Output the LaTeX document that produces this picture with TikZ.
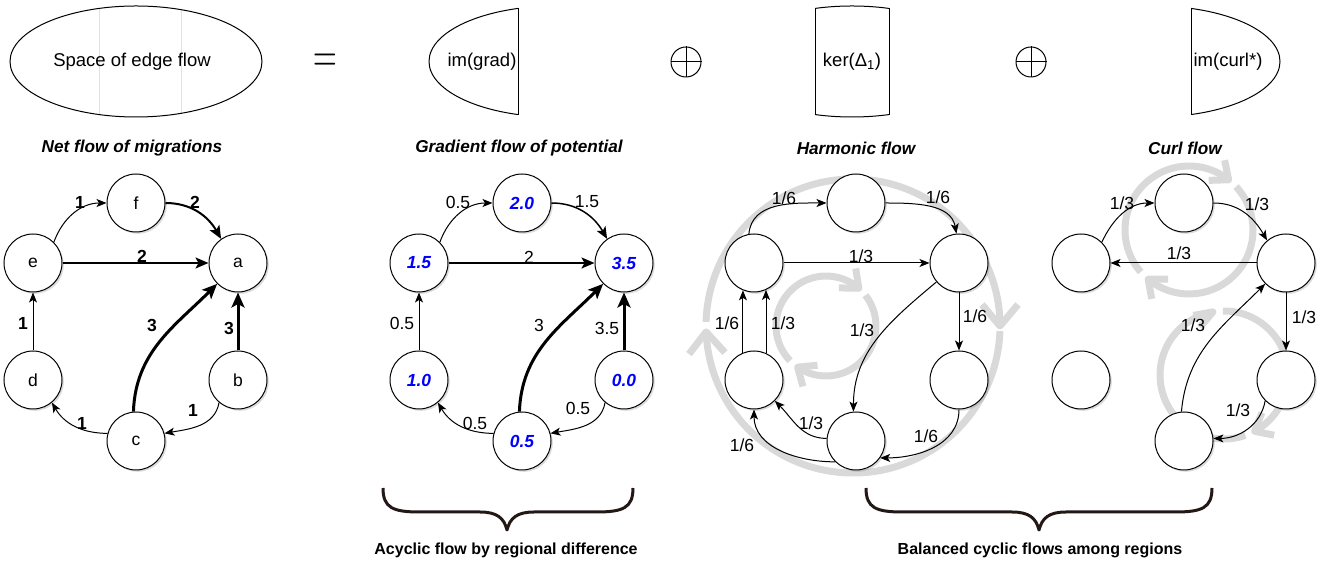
\documentclass[tikz,border=0pt]{standalone}
\usepackage{fontspec}
\setmainfont{Liberation Sans}
\usetikzlibrary{arrows.meta,shadows,calc}
\definecolor{gcirc}{RGB}{217,217,217}
\definecolor{brc}{RGB}{35,24,21}
\definecolor{pblue}{RGB}{0,0,255}
\definecolor{faint}{RGB}{225,225,225}
\begin{document}
\begin{tikzpicture}[x=1pt,y=1pt,
  nd/.style={circle, draw, line width=1pt, fill=white, minimum size=58pt, inner sep=0pt,
    font=\fontsize{17.5}{20}\selectfont,
    drop shadow={shadow xshift=1.8pt, shadow yshift=-1.8pt, opacity=0.28}},
  pn/.style={nd, font=\fontsize{17.5}{20}\selectfont\bfseries\itshape, text=pblue},
  lbl/.style={font=\fontsize{17.5}{20}\selectfont, inner sep=0pt},
  blbl/.style={font=\fontsize{17.5}{20}\selectfont\bfseries, inner sep=0pt},
  ttl/.style={font=\fontsize{17.2}{20}\selectfont\bfseries\itshape, inner sep=0pt},
  btxt/.style={font=\fontsize{16}{19}\selectfont\bfseries, inner sep=0pt},
  toptxt/.style={font=\fontsize{18.5}{21}\selectfont, inner sep=0pt},
  ea/.style={line width=1pt, -{Stealth[length=10pt, width=8pt, inset=2.5pt]}},
  eb/.style={line width=2pt, -{Stealth[length=13pt, width=11pt, inset=3pt]}},
  ec/.style={line width=3pt, -{Stealth[length=15pt, width=13pt, inset=3.5pt]}},
  gl/.style={line width=7pt, draw=gcirc, line join=round},
  shp/.style={line width=1pt},
  brace/.style={line width=3pt, draw=brc, line join=round}
]
\useasboundingbox (0,0) rectangle (1331,564);

% ---------------- top row ----------------
\draw[faint, line width=1pt] (99,449.4) -- (99,555.6);
\draw[faint, line width=1pt] (181,450.7) -- (181,554.3);
\draw[shp] (136,502.5) ellipse[x radius=126pt, y radius=55.5pt];
\node[toptxt] (space) at (132,502.5) {Space of edge flow};

\node[font=\fontsize{17.5}{20}\selectfont, inner sep=0pt] (eq) at (325,501) {\scalebox{1.9}[3]{$=$}};

\begin{scope}
  \clip (400,440) rectangle (518,570);
  \draw[shp] (555,502.5) ellipse[x radius=126pt, y radius=55.5pt];
\end{scope}
\draw[shp] (518,449.4) -- (518,555.6);
\node[toptxt] (imgrad) at (482,502.5) {im(grad)};

\node[circle, draw, line width=1pt, minimum size=30pt, inner sep=0pt] (op1) at (686,502) {};
\draw[line width=1pt] (op1.north) -- (op1.south) (op1.west) -- (op1.east);

\begin{scope}
  \clip (815,440) rectangle (889,570);
  \draw[shp] (852,502.5) ellipse[x radius=126pt, y radius=55.5pt];
\end{scope}
\draw[shp] (815,449.4) -- (815,555.6);
\draw[shp] (889,449.4) -- (889,555.6);
\node[toptxt] (ker) at (852,502.5) {ker(Δ\textsubscript{1})};

\node[circle, draw, line width=1pt, minimum size=30pt, inner sep=0pt] (op2) at (1031,502) {};
\draw[line width=1pt] (op2.north) -- (op2.south) (op2.west) -- (op2.east);

\begin{scope}
  \clip (1191,440) rectangle (1300,570);
  \draw[shp] (1154,502.5) ellipse[x radius=126pt, y radius=55.5pt];
\end{scope}
\draw[shp] (1191,449.4) -- (1191,555.6);
\node[toptxt] (imcurl) at (1228,502.5) {im(curl*)};

% ---------------- titles ----------------
\node[ttl] (t1) at (132,416) {Net flow of migrations};
\node[ttl] (t2) at (519,416) {Gradient flow of potential};
\node[ttl] (t3) at (856,416) {Harmonic flow};
\node[ttl] (t4) at (1185,416) {Curl flow};

% ---------------- grey cycles ----------------
\coordinate (ho) at (853,238);
\draw[gl] ($(ho)+(178.4:147)$) arc[start angle=178.4, end angle=0, radius=147pt];
\draw[gl] ($(ho)+(0:147)+(130:28)$) -- ($(ho)+(0:147)$) -- ++(50:28);
\draw[gl] ($(ho)+(-2:147)$) arc[start angle=-2, end angle=-177.7, radius=147pt];
\draw[gl] ($(ho)+(-177.7:147)+(312.3:28)$) -- ($(ho)+(-177.7:147)$) -- ++(232.3:28);

\coordinate (hi) at (826,238);
\draw[gl] ($(hi)+(224:50)$) arc[start angle=224, end angle=49, radius=50pt];
\draw[gl] ($(hi)+(49:50)+(179:20)$) -- ($(hi)+(49:50)$) -- ++(99:20);
\draw[gl] ($(hi)+(38:50)$) arc[start angle=38, end angle=-124.6, radius=50pt];
\draw[gl] ($(hi)+(-124.6:50)+(5.4:20)$) -- ($(hi)+(-124.6:50)$) -- ++(285.4:20);

\coordinate (cu) at (1189,334);
\draw[gl] ($(cu)+(221:64)$) arc[start angle=221, end angle=51.7, radius=64pt];
\draw[gl] ($(cu)+(51.7:64)+(181.7:20)$) -- ($(cu)+(51.7:64)$) -- ++(101.7:20);
\draw[gl] ($(cu)+(42.7:64)$) arc[start angle=42.7, end angle=-129.7, radius=64pt];
\draw[gl] ($(cu)+(-129.7:64)+(0.3:20)$) -- ($(cu)+(-129.7:64)$) -- ++(280.3:20);

\coordinate (cl) at (1224,189);
\draw[gl] ($(cl)+(-70.5:64)$) arc[start angle=-70.5, end angle=-260, radius=64pt];
\draw[gl] ($(cl)+(100:64)+(190:20)$) -- ($(cl)+(100:64)$) -- ++(-130:20);
\draw[gl] ($(cl)+(91:64)$) arc[start angle=91, end angle=-61.5, radius=64pt];
\draw[gl] ($(cl)+(-61.5:64)+(68.5:20)$) -- ($(cl)+(-61.5:64)$) -- ++(-11.5:20);

% ---------------- graph 1 ----------------
\node[nd] (f) at (136,361) {f};
\node[nd] (e) at (33,301) {e};
\node[nd] (a) at (238,301) {a};
\node[nd] (d) at (33,184) {d};
\node[nd] (b) at (238,184) {b};
\node[nd] (c) at (136,123) {c};
\draw[ea] (e.45) to[out=70,in=180] (f.west);
\draw[eb] (f.east) to[out=0,in=120] (a.125);
\draw[eb] (e.east) -- (a.west);
\draw[ea] (d.north) -- (e.south);
\draw[ec] (c.95) to[out=88,in=225] (a.225);
\draw[ec] (b.north) -- (a.south);
\draw[ea] (b.230) to[out=-100,in=10] (c.15);
\draw[ea] (c.165) to[out=180,in=-60] (d.-50);
\node[blbl] (l1a) at (80,362) {1};
\node[blbl] (l1b) at (195,362) {2};
\node[blbl] (l1c) at (142,308) {2};
\node[blbl] (l1d) at (23,241) {1};
\node[blbl] (l1e) at (152,239) {3};
\node[blbl] (l1f) at (229,236) {3};
\node[blbl] (l1g) at (193,154) {1};
\node[blbl] (l1h) at (82,141) {1};

% ---------------- graph 2 ----------------
\node[pn] (f2) at (522,361) {2.0};
\node[pn] (e2) at (419,301) {1.5};
\node[pn] (a2) at (624,301) {3.5};
\node[pn] (d2) at (419,184) {1.0};
\node[pn] (b2) at (624,184) {0.0};
\node[pn] (c2) at (522,123) {0.5};
\draw[ea] (e2.45) to[out=70,in=180] (f2.west);
\draw[line width=1.5pt, -{Stealth[length=12pt, width=10pt, inset=3pt]}] (f2.east) to[out=0,in=120] (a2.125);
\draw[eb] (e2.east) -- (a2.west);
\draw[ea] (d2.north) -- (e2.south);
\draw[ec] (c2.95) to[out=88,in=225] (a2.225);
\draw[ec] (b2.north) -- (a2.south);
\draw[ea] (b2.230) to[out=-100,in=10] (c2.15);
\draw[ea] (c2.165) to[out=180,in=-60] (d2.-50);
\node[lbl] (l2a) at (458,362) {0.5};
\node[lbl] (l2b) at (587,362) {1.5};
\node[lbl] (l2c) at (529,307) {2};
\node[lbl] (l2d) at (402,241) {0.5};
\node[lbl] (l2e) at (539,239) {3};
\node[lbl] (l2f) at (607,236) {3.5};
\node[lbl] (l2g) at (578,156) {0.5};
\node[lbl] (l2h) at (475,141) {0.5};

% ---------------- graph 3 ----------------
\node[nd] (T3) at (856,361) {};
\node[nd] (L3) at (754,301) {};
\node[nd] (R3) at (959,301) {};
\node[nd] (LL3) at (754,184) {};
\node[nd] (RL3) at (959,184) {};
\node[nd] (B3) at (856,123) {};
\draw[ea] (L3.100) to[out=85,in=180] (T3.west);
\draw[ea] (T3.east) to[out=0,in=100] (R3.95);
\draw[ea] (L3.east) -- (R3.west);
\draw[ea] (R3.south) -- (RL3.north);
\draw[ea] (R3.220) to[out=220,in=90] (B3.95);
\draw[ea] (LL3.112) -- (L3.248);
\draw[ea] (LL3.66) -- (L3.294);
\draw[ea] (B3.175) to[out=180,in=-45] (LL3.-45);
\draw[ea] (B3.225) to[out=180,in=-90] (LL3.south);
\draw[ea] (RL3.south) to[out=-90,in=0] (B3.-35);
\node[lbl] (l3a) at (784,366) {1/6};
\node[lbl] (l3b) at (938,367) {1/6};
\node[lbl] (l3c) at (861,308) {1/3};
\node[lbl] (l3d) at (975,248) {1/6};
\node[lbl] (l3e) at (862,234) {1/3};
\node[lbl] (l3f) at (727,241) {1/6};
\node[lbl] (l3g) at (783,241) {1/3};
\node[lbl] (l3h) at (811,141) {1/3};
\node[lbl] (l3i) at (742,119) {1/6};
\node[lbl] (l3j) at (926,128) {1/6};

% ---------------- graph 4 ----------------
\node[nd] (T4) at (1184,361) {};
\node[nd] (L4) at (1081,301) {};
\node[nd] (R4) at (1286,301) {};
\node[nd] (LL4) at (1081,184) {};
\node[nd] (RL4) at (1286,184) {};
\node[nd] (B4) at (1184,123) {};
\draw[ea] (L4.45) to[out=65,in=180] (T4.west);
\draw[ea] (T4.east) to[out=0,in=120] (R4.130);
\draw[ea] (R4.west) -- (L4.east);
\draw[ea] (R4.south) -- (RL4.north);
\draw[ea] (B4.95) to[out=85,in=225] (R4.225);
\draw[ea] (RL4.225) to[out=-100,in=0] (B4.5);
\node[lbl] (l4a) at (1122,361) {1/3};
\node[lbl] (l4b) at (1257,360) {1/3};
\node[lbl] (l4c) at (1179,311) {1/3};
\node[lbl] (l4d) at (1304,247) {1/3};
\node[lbl] (l4e) at (1193,239) {1/3};
\node[lbl] (l4f) at (1238,154) {1/3};

% ---------------- braces ----------------
\coordinate (b1l) at (383,76);
\coordinate (b1m) at (507,34);
\coordinate (b1r) at (633,76);
\draw[brace] (b1l) .. controls ++(0,-20) and (393,52) .. (420,52) -- (480,52)
  .. controls (497,52) and (504,46) .. (b1m) .. controls (510,46) and (517,52) .. (534,52)
  -- (596,52) .. controls (623,52) and ($(b1r)+(0,-20)$) .. (b1r);
\coordinate (b2l) at (866,76);
\coordinate (b2m) at (1039,34);
\coordinate (b2r) at (1212,76);
\draw[brace] (b2l) .. controls ++(0,-20) and (876,52) .. (903,52) -- (1012,52)
  .. controls (1029,52) and (1036,46) .. (b2m) .. controls (1042,46) and (1049,52) .. (1066,52)
  -- (1175,52) .. controls (1202,52) and ($(b2r)+(0,-20)$) .. (b2r);
\node[btxt] (bt1) at (506,14) {Acyclic flow by regional difference};
\node[btxt] (bt2) at (1040,14) {Balanced cyclic flows among regions};
\end{tikzpicture}
\end{document}
